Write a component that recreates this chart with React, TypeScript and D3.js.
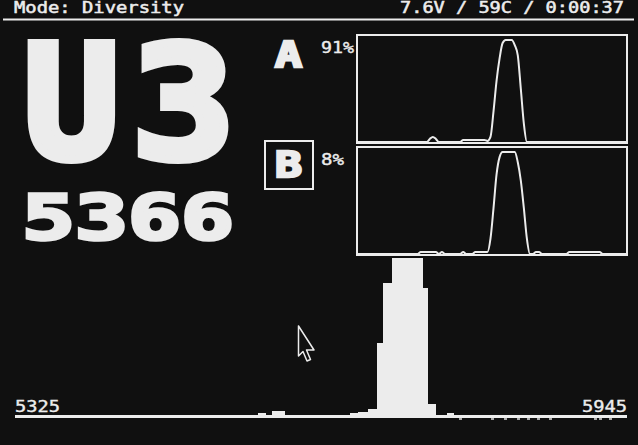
import * as d3 from 'd3'

// header texts
const modeLabel = 'Mode: Diversity'
const statusLabel = '7.6V / 59C / 0:00:37'
const channelName = ['U', '3']
const channelFreq = '5366'

// receiver strength, percent
const receivers = ['A', 'B']
const activeReceiver = 'B'
const rssiNow = [91, 8]

// rssi history, 90 samples each (rows of 10)
const rssiA = [
  0, 0, 0, 0, 0, 0, 0, 0, 0, 0,
  0, 0, 0, 0, 0, 0, 0, 0, 0, 0,
  0, 0, 0, 0, 3, 5, 3, 0, 0, 0,
  0, 0, 0, 0, 0, 2, 2, 2, 2, 2,
  2, 2, 2, 1, 5, 30, 60, 82, 97, 100,
  100, 100, 95, 85, 52, 18, 0, 0, 0, 0,
  0, 0, 0, 0, 0, 0, 0, 0, 0, 0,
  0, 0, 0, 0, 0, 0, 0, 0, 0, 0,
  0, 0, 0, 0, 0, 0, 0, 0, 0, 0,
]
const rssiB = [
  0, 0, 0, 0, 0, 0, 0, 0, 0, 0,
  0, 0, 0, 0, 0, 0, 0, 0, 0, 0,
  0, 2, 2, 2, 2, 2, 2, 0, 2, 0,
  0, 0, 0, 0, 0, 2, 0, 0, 0, 2,
  2, 2, 2, 2, 15, 45, 78, 95, 100, 100,
  100, 100, 100, 90, 72, 45, 15, 0, 0, 2,
  2, 0, 0, 0, 0, 0, 0, 0, 0, 0,
  2, 2, 2, 2, 2, 2, 2, 2, 2, 2,
  2, 0, 0, 0, 0, 0, 0, 0, 0, 0,
]

// spectrum scan: [from MHz, to MHz, level %]
const freqMin = 5325
const freqMax = 5945
const spectrumBins: [number, number, number][] = [
  [5571, 5578, 1.5],
  [5585, 5598, 2.5],
  [5664, 5672, 1.5],
  [5672, 5683, 2],
  [5683, 5692, 4],
  [5692, 5698, 46],
  [5698, 5707, 84],
  [5707, 5737, 100],
  [5737, 5742, 81],
  [5742, 5750, 7],
  [5763, 5769, 1.5],
]
const scanMarks = [5776, 5808, 5821, 5835, 5845, 5855, 5867, 5913, 5918, 5928]

const W = 638
const H = 445
const BG = '#101010'
const FG = '#ececec'
const MONO = '"DejaVu Sans Mono", "Liberation Mono", monospace'

export default function App() {
  const x = d3.scaleLinear().domain([freqMin, freqMax]).range([15, 627])
  const y = d3.scaleLinear().domain([0, 100]).range([415, 258])

  const panelX = d3.scaleLinear().domain([0, rssiA.length - 1]).range([357, 627])
  const panels = [
    { top: 35, bottom: 143, data: rssiA },
    { top: 147, bottom: 255, data: rssiB },
  ]
  const bigCenters = [71.5, 183.5]
  const bigScale = [1.02, 1.1]

  return (
    <svg width={W} height={H} viewBox={`0 0 ${W} ${H}`}
      style={{ position: 'fixed', left: 0, top: 0, display: 'block', background: BG }}>
      <rect width={W} height={H} fill={BG} />

      {/* status line */}
      <text x={14} y={13} fontFamily={MONO} fontSize={15} fill={FG} stroke={FG} strokeWidth={0.5}
        textLength={170} lengthAdjust="spacingAndGlyphs">{modeLabel}</text>
      <text x={400} y={13} fontFamily={MONO} fontSize={15} fill={FG} stroke={FG} strokeWidth={0.5}
        textLength={224} lengthAdjust="spacingAndGlyphs">{statusLabel}</text>
      <rect x={3} y={18.5} width={631} height={2} fill={FG} />

      {/* channel */}
      {channelName.map((c, i) => (
        <text key={i} transform={`translate(${bigCenters[i]},158) scale(${bigScale[i]},1)`} textAnchor="middle"
          fontFamily={MONO} fontWeight="bold" fontSize={156} fill={FG}
          stroke={FG} strokeWidth={8} strokeLinejoin="miter">{c}</text>
      ))}
      <text x={22} y={238.5} fontFamily={MONO} fontWeight="bold" fontSize={62} fill={FG}
        stroke={FG} strokeWidth={3.5} strokeLinejoin="miter"
        textLength={212} lengthAdjust="spacingAndGlyphs">{channelFreq}</text>

      {/* spectrum */}
      {spectrumBins.map(([f0, f1, v], i) => (
        <rect key={i} x={Math.round(x(f0))} y={Math.round(y(v))}
          width={Math.round(x(f1)) - Math.round(x(f0)) + 0.5} height={Math.round(y(0) - y(v)) + 1}
          fill={FG} shapeRendering="crispEdges" />
      ))}
      <rect x={x(freqMin)} y={y(0)} width={x(freqMax) - x(freqMin)} height={3} fill={FG} shapeRendering="crispEdges" />
      {scanMarks.map((f, i) => (
        <rect key={i} x={Math.round(x(f)) - 1} y={y(0) + 3} width={3} height={2} fill="#aaa" shapeRendering="crispEdges" />
      ))}
      <text x={x(freqMin)} y={412} fontFamily={MONO} fontSize={16} fill={FG} stroke={FG} strokeWidth={0.4}
        textLength={45} lengthAdjust="spacingAndGlyphs">{freqMin}</text>
      <text x={x(freqMax) - 45} y={412} fontFamily={MONO} fontSize={16} fill={FG} stroke={FG} strokeWidth={0.4}
        textLength={45} lengthAdjust="spacingAndGlyphs">{freqMax}</text>

      {/* receiver panels */}
      {panels.map((p, k) => {
        const py = d3.scaleLinear().domain([0, 100]).range([p.bottom - 1, p.top + 5])
        const line = d3.line<number>().x((_, i) => panelX(i)).y(v => py(v)).curve(d3.curveMonotoneX)
        const name = receivers[k]
        const active = name === activeReceiver
        return (
          <g key={name}>
            <rect x={357} y={p.top} width={270} height={p.bottom - p.top} fill={BG} stroke={FG} strokeWidth={2} />
            <path d={line(p.data) || ''} fill="none" stroke={FG} strokeWidth={2} />
            {active && (
              <rect x={265} y={p.top - 6} width={48} height={48} fill="none" stroke={FG} strokeWidth={2} />
            )}
            <text x={275} y={p.top + (active ? 30 : 32)} fontFamily={MONO} fontWeight="bold" fontSize={36} fill={FG}
              stroke={FG} strokeWidth={2.5} textLength={27} lengthAdjust="spacingAndGlyphs">{name}</text>
            <text x={321} y={p.top + 18} fontFamily={MONO} fontSize={16} fill={FG} stroke={FG} strokeWidth={0.4}
              textLength={rssiNow[k] >= 10 ? 33 : 23} lengthAdjust="spacingAndGlyphs">{rssiNow[k]}%</text>
          </g>
        )
      })}

      {/* mouse pointer */}
      <path d="M298.5,326 L298.5,356 L303,351.5 L307,361 L310.5,359.5 L306.5,350 L314,350 Z"
        fill="none" stroke={FG} strokeWidth={1.5} strokeLinejoin="round" />
    </svg>
  )
}
